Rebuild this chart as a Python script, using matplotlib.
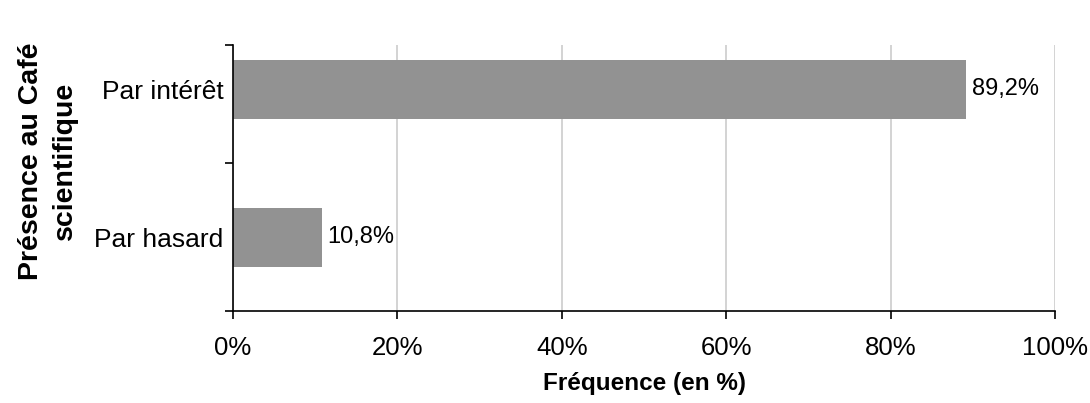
import matplotlib
matplotlib.use("Agg")
import matplotlib.pyplot as plt
from matplotlib.ticker import FixedLocator, NullFormatter

categories = ["Par hasard", "Par intérêt"]
values = [10.8, 89.2]
value_labels = ["10,8%", "89,2%"]
x_ticks = [0, 20, 40, 60, 80, 100]
x_tick_labels = ["0%", "20%", "40%", "60%", "80%", "100%"]

plt.rcParams["font.family"] = ["Liberation Sans", "DejaVu Sans"]

fig = plt.figure(figsize=(10.9, 4.03), dpi=100)
ax = fig.add_axes([0.2138, 0.2283, 0.7541, 0.66])

pos = list(range(len(categories)))
ax.barh(pos, values, height=0.4, color="#929292", zorder=2)
for p, v, lab in zip(pos, values, value_labels):
    ax.text(v + 0.7, p, lab, va="center", ha="left", fontsize=17, color="black")

ax.set_xlim(0, 100)
ax.set_ylim(-0.5, 1.3)
ax.set_xticks(x_ticks)
ax.set_xticklabels(x_tick_labels, fontsize=18.5)
ax.set_yticks(pos)
ax.set_yticklabels(categories, fontsize=19)
ax.tick_params(axis="y", which="major", length=0, pad=7)
ax.yaxis.set_minor_locator(FixedLocator([-0.5, 0.5, 1.3]))
ax.yaxis.set_minor_formatter(NullFormatter())
ax.tick_params(axis="y", which="minor", length=6, width=1.2, direction="out")
ax.tick_params(axis="x", length=6, width=1.2, direction="out", pad=12)

ax.grid(axis="x", color="#d0d0d0", linewidth=1.3, zorder=0)
ax.set_axisbelow(True)
for s in ["top", "right"]:
    ax.spines[s].set_visible(False)
for s in ["left", "bottom"]:
    ax.spines[s].set_linewidth(1.2)

ax.set_xlabel("Fréquence (en %)", fontsize=17.5, fontweight="bold", labelpad=9)
ax.set_ylabel("Présence au Café\nscientifique", fontsize=20.5, fontweight="bold",
              linespacing=1.4)
ax.yaxis.set_label_coords(-0.189, 0.564)

fig.savefig("out.png", dpi=100)
